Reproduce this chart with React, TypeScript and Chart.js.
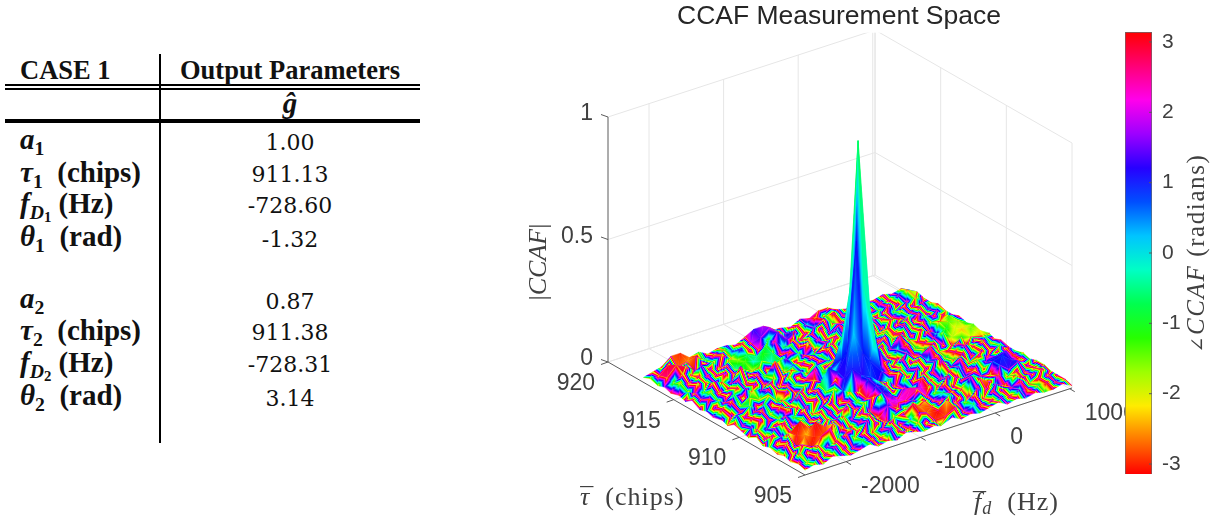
import React, { useEffect, useRef } from "react";
import { Chart, registerables } from "chart.js";

Chart.register(...registerables);

// ---------- table content ----------
const tableHeaders = ["CASE 1", "Output Parameters"];
const firstValues = ["1.00", "911.13", "-728.60", "-1.32"];
const secondValues = ["0.87", "911.38", "-728.31", "3.14"];
const firstBaselines = [150, 182, 213, 247];
const secondBaselines = [309, 340, 372, 406];

// ---------- axes content ----------
const tauTicks = [920, 915, 910, 905];
const fdTicks = [-2000, -1000, 0, 1000];
const zTicks = [1, 0.5, 0];
const phaseTicks = [-3, -2, -1, 0, 1, 2, 3];
const tauMin = 905;
const tauMax = 920;
const fdMin = -2550;
const fdMax = 1030;

// ---------- surface grid ----------
const tauGrid = [905.0, 905.5, 906.1, 906.6, 907.1, 907.7, 908.2, 908.7, 909.3, 909.8, 910.4, 910.9, 911.3, 912.0, 912.5, 913.0, 913.6, 914.1, 914.6, 915.2, 915.7, 916.2, 916.8, 917.3];
const fdGrid = [-2550, -2427, -2303, -2180, -2056, -1933, -1810, -1686, -1563, -1439, -1316, -1193, -1069, -946, -822, -729, -575, -452, -329, -205, -82, 42, 165, 288, 412, 535, 658, 782, 905, 1030];

// |CCAF| in hundredths, one row per tau
const magnitude = [
  [2,3,2,4,3,2,3,4,2,3,2,4,3,2,3,2,4,2,3,2,3,4,2,3,2,3,2,2,3,1],
  [3,2,4,3,5,3,2,4,3,2,5,3,2,4,2,3,3,5,2,4,2,3,3,2,4,2,3,3,2,2],
  [2,4,3,5,3,4,6,3,4,3,3,5,2,3,5,4,3,6,4,3,5,2,4,3,3,4,2,3,3,2],
  [3,2,5,3,6,8,3,5,3,6,4,3,4,4,7,5,3,4,6,3,2,5,3,4,2,5,3,3,4,2],
  [2,5,3,6,4,3,7,4,3,4,6,3,7,5,3,6,4,3,5,4,4,8,6,3,5,3,4,2,3,3],
  [3,3,6,4,3,7,4,5,6,3,5,4,9,6,4,4,7,3,3,6,3,5,3,4,3,6,3,5,2,3],
  [2,5,3,4,7,3,5,4,3,7,4,6,7,8,5,3,6,5,4,3,6,4,3,5,4,6,7,4,3,2],
  [4,2,5,6,3,5,3,6,4,3,6,5,5,9,7,5,4,3,6,4,3,5,6,3,6,4,5,6,3,3],
  [2,4,3,3,6,4,6,3,5,5,4,7,6,10,8,6,3,5,3,5,4,8,4,6,3,5,3,4,4,2],
  [3,3,5,4,3,6,5,4,6,4,8,6,14,10,8,5,4,6,3,5,4,6,3,4,5,3,4,3,4,2],
  [4,2,4,6,3,5,4,7,4,7,5,9,8,25,16,12,6,4,5,3,6,4,5,3,4,6,4,5,3,3],
  [2,5,3,4,6,4,5,3,6,5,6,12,9,16,60,42,17,7,4,6,3,5,7,4,3,5,3,4,4,2],
  [3,3,4,5,3,7,3,6,4,6,7,5,8,12,42,99,30,9,5,4,6,3,5,6,4,3,5,4,3,3],
  [2,4,6,3,5,3,6,4,5,4,5,8,6,7,17,30,12,6,7,3,5,6,3,4,5,6,3,5,4,2],
  [3,3,4,6,3,5,4,6,3,6,4,5,7,5,7,6,8,5,4,6,4,8,5,3,6,4,5,4,3,3],
  [2,5,3,4,6,4,5,3,5,4,6,4,5,6,5,4,6,7,9,4,7,5,6,4,5,3,6,5,4,2],
  [4,3,5,3,4,6,3,6,4,9,3,5,4,6,5,7,4,6,5,6,3,6,4,7,4,5,4,3,4,3],
  [2,4,3,6,5,3,9,4,6,3,5,6,3,5,4,5,6,4,7,3,6,4,5,5,6,4,5,4,3,2],
  [3,3,5,4,3,6,4,5,3,6,4,4,6,4,7,3,5,6,4,5,9,6,3,6,4,5,4,3,3,2],
  [2,5,3,5,4,3,6,3,5,4,6,5,3,6,4,6,4,3,6,4,7,3,5,4,3,5,3,4,2,3],
  [3,3,6,4,7,4,3,5,4,5,3,6,7,3,5,4,5,6,3,5,4,5,6,3,4,3,4,3,3,2],
  [2,4,8,6,3,5,4,6,3,6,4,3,6,8,4,6,3,5,7,4,3,4,3,5,3,4,3,3,4,2],
  [3,3,6,4,5,6,3,4,5,3,5,4,5,8,5,3,5,4,6,5,5,3,4,3,4,3,3,4,5,3],
  [2,3,4,7,7,4,5,3,4,4,3,5,7,7,4,4,3,5,4,6,6,4,3,4,3,3,4,3,4,2],
];

// angle of CCAF in tenths of a radian, one row per tau
const phase = [
  [28,-12,31,-24,8,-30,18,-6,30,-20,12,-31,24,-9,29,-16,5,-28,21,-2,31,-22,14,-30,9,26,-14,-31,17,-25],
  [25,-9,29,-27,11,-31,15,-3,27,-24,9,-28,27,-12,26,-30,-29,-31,18,1,28,-25,11,-27,6,29,-11,-29,14,-22],
  [30,-15,27,-21,5,-28,21,-9,31,-17,15,-30,21,-6,-30,-28,-31,-26,24,-5,30,-19,17,-31,12,23,-17,-30,20,-28],
  [-12,31,-24,-30,-28,-31,-6,30,-20,12,-31,24,-9,-29,-30,-27,-28,21,-2,31,-22,14,-30,9,26,-14,-31,17,-25,30],
  [-15,28,-31,-27,-30,-29,-24,27,-23,15,-28,27,15,26,-13,8,-25,18,1,28,-19,11,-27,-29,23,-11,-29,20,-22,27],
  [-9,30,-21,-30,-26,-31,-28,31,-17,9,-30,21,-6,21,22,23,24,22,-5,30,-25,17,-31,12,29,11,12,10,-28,31],
  [31,-24,8,-30,-31,-27,30,-20,12,-31,24,-9,29,13,16,22,24,21,31,-22,14,-30,9,26,-14,11,10,12,30,-5],
  [28,-27,11,-27,21,-9,27,-23,15,-28,21,-6,26,14,8,-25,18,1,28,-19,11,-27,6,29,-11,10,11,13,27,-8],
  [30,-21,5,-31,15,-3,31,-17,9,-30,27,-12,31,14,2,-31,24,-5,30,-25,17,-31,12,23,-17,-28,20,-22,31,-2],
  [-24,8,-30,18,-6,30,-20,12,-31,24,-9,9,10,12,8,11,-2,31,-22,14,-30,9,26,-14,-31,17,-25,30,-5,22],
  [-27,11,-27,21,-9,27,-23,15,-28,21,-6,26,12,2,10,9,11,28,-19,11,-27,6,29,-11,-29,14,-22,27,-8,19],
  [-21,5,-31,15,-3,31,-17,9,-30,27,-12,10,12,10,11,-3,-4,30,-25,17,-31,12,23,-17,-28,20,-28,31,-2,25],
  [8,-30,18,-6,30,-12,-13,-31,24,-9,29,8,-3,10,-3,-7,-3,10,14,-30,9,26,-14,-31,17,-25,-15,-19,-22,-16],
  [11,-27,21,-9,-11,-12,15,-28,21,-6,26,21,-7,11,-4,-3,-2,-19,11,-27,6,29,-11,-29,14,-9,-18,-21,-17,-20],
  [5,-31,15,-3,27,-17,9,-30,27,-12,31,-13,2,-31,-23,-6,4,-25,17,-31,12,23,-17,-28,20,5,-12,-19,-20,-15],
  [-30,18,-6,30,-20,12,-31,24,-9,29,-16,5,-28,21,-2,31,-22,14,-30,9,26,-14,-31,17,-25,19,-14,-15,-17,-12],
  [-27,15,-9,27,-23,15,-28,21,-6,26,-13,2,-31,24,-5,28,-19,11,-27,6,29,-11,-29,14,-22,27,-8,-22,-14,19],
  [-31,21,-3,31,-17,9,-30,27,-12,31,-19,8,-25,18,1,30,-25,17,-31,12,23,-17,-28,20,-28,31,-2,18,-28,11],
  [18,-6,30,-20,12,-31,24,-9,-15,-8,-4,-9,21,-2,31,-22,14,-30,9,26,-14,-31,17,-25,30,-5,22,-29,11,-18],
  [21,-9,27,-23,15,-28,21,-6,-12,-5,-9,-6,24,-5,28,-19,11,-27,6,29,-11,-29,14,-22,27,-8,19,-27,8,-21],
  [15,-3,31,-17,9,-30,27,-12,-13,-7,-5,-8,18,1,30,-25,17,-31,12,23,-17,-28,20,-28,31,-2,25,-31,14,-15],
  [-6,27,28,29,-31,24,-9,29,-16,5,-28,21,-2,13,14,14,-30,9,26,-14,-31,17,-25,30,-5,22,-29,11,-18,31],
  [-9,27,29,-28,-27,-29,-6,26,-13,2,-25,18,15,16,-19,11,-27,6,29,-11,-29,14,-22,27,-8,19,-27,8,-17,-19],
  [-3,31,-14,-28,-29,-27,-12,31,-19,8,-31,24,14,17,-25,17,-31,12,23,26,24,20,-28,31,-2,25,-31,14,-18,-2],
];

// ---------- oblique projection of the 3-D box onto the page ----------
const origin = { x: 805, y: 475 };
const tauAxis = { x: -197, y: -113 };
const fdAxis = { x: 267, y: -87 };
const zHeight = 245;
const noiseFloorLimit = 0.12;
const noiseBanding = 1.9;

function project(tau: number, fd: number, z: number) {
  const a = (tau - tauMin) / (tauMax - tauMin);
  const b = (fd - fdMin) / (fdMax - fdMin);
  return {
    x: origin.x + a * tauAxis.x + b * fdAxis.x,
    y: origin.y + a * tauAxis.y + b * fdAxis.y - z * zHeight,
  };
}

function phaseColor(p: number) {
  const h = ((((p + Math.PI) / (2 * Math.PI)) * 360) % 360 + 360) % 360;
  return `hsl(${h.toFixed(1)},100%,50%)`;
}

function gradientBetween(ctx: CanvasRenderingContext2D, x0: number, y0: number, x1: number, y1: number, a: number, b: number) {
  const g = ctx.createLinearGradient(x0, y0, x1, y1);
  const n = Math.max(2, Math.ceil(Math.abs(b - a) / 0.5) + 1);
  for (let i = 0; i < n; i++) {
    const t = i / (n - 1);
    g.addColorStop(t, phaseColor(a + (b - a) * t));
  }
  return g;
}

function segment(points: { x: number; y: number }[], color: string, width: number) {
  return {
    data: points,
    showLine: true,
    fill: false,
    borderColor: color,
    borderWidth: width,
    pointRadius: 0,
    tension: 0,
  };
}

type Vertex = { x: number; y: number; p: number };

// A linear gradient that follows the angle over one triangle; the noise floor gets tighter colour bands.
function triangleFill(ctx: CanvasRenderingContext2D, v: Vertex[], banding: number) {
  const [a, b, c] = v;
  const ux = b.x - a.x, uy = b.y - a.y, up = b.p - a.p;
  const wx = c.x - a.x, wy = c.y - a.y, wp = c.p - a.p;
  const det = ux * wy - uy * wx;
  const mean = (a.p + b.p + c.p) / 3;
  if (Math.abs(det) < 1e-3) return phaseColor(mean);
  const gx = (up * wy - wp * uy) / det;
  const gy = (ux * wp - wx * up) / det;
  const g2 = gx * gx + gy * gy;
  if (g2 < 1e-9) return phaseColor(mean);
  const sorted = [...v].sort((m, n) => m.p - n.p);
  const lo = sorted[0];
  const hi = sorted[2];
  const span = hi.p - lo.p;
  return gradientBetween(
    ctx,
    lo.x,
    lo.y,
    lo.x + (gx * span) / g2,
    lo.y + (gy * span) / g2,
    mean + (lo.p - mean) * banding,
    mean + (hi.p - mean) * banding
  );
}

function surfaceDatasets() {
  const cells: any[] = [];
  const triangle = (i: number[], j: number[]) => {
    const heights = i.map((r, k) => magnitude[r][j[k]] / 100);
    const world = i.map((r, k) => ({
      ...project(tauGrid[r], fdGrid[j[k]], heights[k]),
      p: phase[r][j[k]] / 10,
    }));
    const banding = Math.max(...heights) < noiseFloorLimit ? noiseBanding : 1;
    let cache: any = null;
    const paint = (ctx: any) => {
      if (cache) return cache;
      const chart = ctx.chart;
      const sx = chart.scales.x;
      const sy = chart.scales.y;
      if (!sx || !sy) return "#888";
      const px = world.map((v) => ({ x: sx.getPixelForValue(v.x), y: sy.getPixelForValue(v.y), p: v.p }));
      if (!px.every((v) => Number.isFinite(v.x) && Number.isFinite(v.y))) return "#888";
      cache = triangleFill(chart.ctx, px, banding);
      return cache;
    };
    cells.push({
      data: [world[0], world[1], world[2], world[0]].map((v) => ({ x: v.x, y: v.y })),
      showLine: true,
      fill: "shape",
      borderColor: paint,
      backgroundColor: paint,
      borderWidth: 0.5,
      pointRadius: 0,
      tension: 0,
    });
  };
  for (let s = 0; s <= tauGrid.length + fdGrid.length - 4; s++) {
    for (let r = 0; r < tauGrid.length - 1; r++) {
      const c = s - r;
      if (c < 0 || c >= fdGrid.length - 1) continue;
      triangle([r, r, r + 1], [c, c + 1, c + 1]);
      triangle([r, r + 1, r + 1], [c, c + 1, c]);
    }
  }
  return cells;
}

function boxDatasets() {
  const wall = "#e6e6e6";
  const axis = "#5a5a5a";
  const out: any[] = [];
  for (const z of zTicks) {
    out.push(segment([project(tauMax, fdMin, z), project(tauMax, fdMax, z), project(tauMin, fdMax, z)], wall, 1));
  }
  for (const f of fdTicks) {
    out.push(segment([project(tauMax, f, 0), project(tauMax, f, 1)], wall, 1));
    out.push(segment([project(tauMax, f, 0), project(tauMin, f, 0)], wall, 1));
  }
  for (const t of tauTicks) {
    out.push(segment([project(t, fdMax, 0), project(t, fdMax, 1)], wall, 1));
    out.push(segment([project(t, fdMax, 0), project(t, fdMin, 0)], wall, 1));
  }
  out.push(segment([project(tauMax, fdMax, 0), project(tauMax, fdMax, 1)], wall, 1));
  out.unshift(segment([project(tauMax, fdMin, 0), project(tauMax, fdMin, 1)], axis, 1));
  out.unshift(segment([project(tauMax, fdMin, 0), project(tauMin, fdMin, 0)], axis, 1));
  out.unshift(segment([project(tauMin, fdMin, 0), project(tauMin, fdMax, 0)], axis, 1));
  for (const z of zTicks) {
    const p = project(tauMax, fdMin, z);
    out.unshift(segment([p, { x: p.x - 7, y: p.y - 2.5 }], axis, 1));
  }
  for (const t of tauTicks) {
    const p = project(t, fdMin, 0);
    out.unshift(segment([p, { x: p.x - 7, y: p.y + 2.5 }], axis, 1));
  }
  for (const f of fdTicks) {
    const p = project(tauMin, f, 0);
    out.unshift(segment([p, { x: p.x + 5, y: p.y + 3 }], axis, 1));
  }
  return out;
}

type Run = { t: string; font: string; dy?: number; over?: boolean };
type Label = { x: number; y: number; rot?: number; align?: "left" | "right" | "center"; spacing?: string; runs: Run[] };

const sans = '"Liberation Sans", Arial, sans-serif';
const serif = '"Liberation Serif", "Times New Roman", serif';
const inkColor = "#404040";

function drawRuns(ctx: CanvasRenderingContext2D, label: Label) {
  ctx.save();
  ctx.translate(label.x, label.y);
  if (label.rot) ctx.rotate(label.rot);
  ctx.textBaseline = "alphabetic";
  ctx.textAlign = "left";
  ctx.fillStyle = inkColor;
  (ctx as any).letterSpacing = label.spacing ?? "0px";
  let w = 0;
  for (const run of label.runs) {
    if (run.over) continue;
    ctx.font = run.font;
    w += ctx.measureText(run.t).width;
  }
  let x = label.align === "center" ? -w / 2 : label.align === "right" ? -w : 0;
  let previous = 0;
  for (const run of label.runs) {
    ctx.font = run.font;
    const m = ctx.measureText(run.t).width;
    if (run.over) {
      ctx.fillText(run.t, x - previous / 2 - m / 2 + 2, run.dy ?? 0);
      continue;
    }
    ctx.fillText(run.t, x, run.dy ?? 0);
    x += m;
    previous = m;
  }
  ctx.restore();
}

const tickFont = `23px ${sans}`;
const italicFont = `italic 26px ${serif}`;
const romanFont = `26px ${serif}`;

function plotLabels(): Label[] {
  const out: Label[] = [];
  for (const t of tauTicks) {
    const p = project(t, fdMin, 0);
    out.push({ x: p.x - 13, y: p.y + 28, align: "right", runs: [{ t: String(t), font: tickFont }] });
  }
  for (const f of fdTicks) {
    const p = project(tauMin, f, 0);
    out.push({ x: p.x + 15, y: p.y + 31, align: "left", runs: [{ t: String(f), font: tickFont }] });
  }
  for (const z of zTicks) {
    const p = project(tauMax, fdMin, z);
    out.push({ x: p.x - 15, y: p.y + 3, align: "right", runs: [{ t: String(z), font: tickFont }] });
  }
  out.push({
    x: 546,
    y: 262,
    rot: -Math.PI / 2,
    align: "center",
    runs: [{ t: "|", font: romanFont }, { t: "CCAF", font: italicFont }, { t: "|", font: romanFont }],
  });
  out.push({
    x: 580,
    y: 505,
    align: "left",
    spacing: "1px",
    runs: [
      { t: "\u03C4", font: italicFont },
      { t: "\u00AF", font: romanFont, dy: 0, over: true },
      { t: "  (chips)", font: romanFont },
    ],
  });
  out.push({
    x: 974,
    y: 510,
    align: "left",
    spacing: "1px",
    runs: [
      { t: "f", font: italicFont },
      { t: "\u00AF", font: romanFont, dy: 0, over: true },
      { t: "d", font: `italic 18px ${serif}`, dy: 4 },
      { t: "  (Hz)", font: romanFont },
    ],
  });
  return out;
}

function Surface() {
  const ref = useRef<HTMLCanvasElement | null>(null);
  useEffect(() => {
    if (!ref.current) return;
    const labels = plotLabels();
    const textPlugin = {
      id: "plotText",
      afterDraw(chart: any) {
        const { ctx, scales } = chart;
        for (const l of labels) {
          drawRuns(ctx, { ...l, x: scales.x.getPixelForValue(l.x), y: scales.y.getPixelForValue(l.y) });
        }
      },
    };
    const chart = new Chart(ref.current, {
      type: "scatter",
      data: { datasets: [...surfaceDatasets(), ...boxDatasets()] as any },
      plugins: [textPlugin],
      options: {
        animation: false,
        responsive: false,
        events: [],
        layout: { padding: 0 },
        plugins: {
          legend: { display: false },
          tooltip: { enabled: false },
          title: {
            display: true,
            text: "CCAF Measurement Space",
            color: "#262626",
            padding: { top: 1, bottom: 0 },
            font: { family: sans, size: 26.5, weight: "normal", lineHeight: 1.2 },
          },
        },
        scales: {
          x: { type: "linear", min: 461, max: 1217, display: false },
          y: { type: "linear", min: 32.8, max: 523, reverse: true, display: false },
        },
      } as any,
    });
    return () => chart.destroy();
  }, []);
  return <canvas ref={ref} width={756} height={523} style={{ position: "absolute", left: 461, top: 0 }} />;
}

function ColorBar() {
  const ref = useRef<HTMLCanvasElement | null>(null);
  useEffect(() => {
    if (!ref.current) return;
    const barPlugin = {
      id: "barExtras",
      afterDraw(chart: any) {
        const { ctx, chartArea, scales } = chart;
        ctx.save();
        ctx.strokeStyle = "#5a5a5a";
        ctx.lineWidth = 1;
        for (const t of phaseTicks) {
          const y = scales.y.getPixelForValue(t);
          ctx.beginPath();
          ctx.moveTo(chartArea.right - 3, y);
          ctx.lineTo(chartArea.right, y);
          ctx.stroke();
        }
        ctx.restore();
        drawRuns(ctx, {
          x: 104,
          y: 253,
          rot: -Math.PI / 2,
          align: "center",
          spacing: "1.6px",
          runs: [
            { t: "\u2220", font: `19px "DejaVu Serif", ${serif}` },
            { t: "CCAF", font: `italic 25px ${serif}` },
            { t: " (radians)", font: `25px ${serif}` },
          ],
        });
      },
    };
    const chart = new Chart(ref.current, {
      type: "bar",
      data: {
        labels: ["phase"],
        datasets: [
          {
            data: [[-Math.PI, Math.PI]],
            barPercentage: 1,
            categoryPercentage: 1,
            borderWidth: 1,
            borderColor: "#6a6a6a",
            backgroundColor: (ctx: any) => {
              const s = ctx.chart.scales.y;
              if (!s) return "#888";
              const lo = s.getPixelForValue(-Math.PI);
              const hi = s.getPixelForValue(Math.PI);
              if (!Number.isFinite(lo) || !Number.isFinite(hi)) return "#888";
              return gradientBetween(ctx.chart.ctx, 0, lo, 0, hi, -Math.PI, Math.PI);
            },
          },
        ] as any,
      },
      plugins: [barPlugin],
      options: {
        animation: false,
        responsive: false,
        events: [],
        layout: { padding: { left: 25, top: 32, bottom: 49, right: 0 } },
        plugins: { legend: { display: false }, tooltip: { enabled: false } },
        scales: {
          x: { display: false },
          y: {
            type: "linear",
            position: "right",
            min: -Math.PI,
            max: Math.PI,
            afterFit: (s: any) => {
              s.width = 65;
            },
            grid: { display: false },
            border: { display: false },
            ticks: {
              includeBounds: false,
              stepSize: 1,
              padding: 2,
              color: inkColor,
              font: { family: sans, size: 21 },
            },
          },
        },
      } as any,
    });
    return () => chart.destroy();
  }, []);
  return <canvas ref={ref} width={117} height={523} style={{ position: "absolute", left: 1100, top: 0 }} />;
}

// ---------- table ----------
const bodyFont = '"DejaVu Serif", serif';
const headFont = '"Liberation Serif", serif';

function T(props: { x: number; base: number; size: number; family: string; center?: boolean; bold?: boolean; children: React.ReactNode }) {
  const { x, base, size, family, center, bold, children } = props;
  return (
    <div
      style={{
        position: "absolute",
        left: x,
        top: base - 20 - 0.34 * size,
        lineHeight: "40px",
        fontSize: size,
        fontFamily: family,
        fontWeight: bold ? 700 : 400,
        whiteSpace: "pre",
        color: "#111",
        transform: center ? "translateX(-50%)" : undefined,
      }}
    >
      {children}
    </div>
  );
}

const subStyle: React.CSSProperties = { fontSize: "0.68em", position: "relative", top: "0.28em", fontStyle: "normal" };

function Sym(props: { s: string; sub: string; rest: string; small?: boolean }) {
  return (
    <>
      <i>{props.s}</i>
      {props.small ? (
        <span style={{ ...subStyle, fontStyle: "italic" }}>
          D<span style={{ fontSize: "0.75em", position: "relative", top: "0.2em", fontStyle: "normal" }}>{props.sub}</span>
        </span>
      ) : (
        <span style={subStyle}>{props.sub}</span>
      )}
      {props.rest}
    </>
  );
}

function Rule(props: { x: number; y: number; w: number; h: number }) {
  return <div style={{ position: "absolute", left: props.x, top: props.y, width: props.w, height: props.h, background: "#000" }} />;
}

function ParamTable() {
  const rows = (sub: string, bases: number[], vals: string[]) => (
    <>
      <T x={20} base={bases[0] - 1} size={29} family={headFont} bold><Sym s="a" sub={sub} rest="" /></T>
      <T x={20} base={bases[1]} size={29} family={headFont} bold><Sym s="τ" sub={sub} rest="  (chips)" /></T>
      <T x={20} base={bases[2]} size={29} family={headFont} bold><Sym s="f" sub={sub} rest=" (Hz)" small /></T>
      <T x={20} base={bases[3] - 1} size={29} family={headFont} bold><Sym s="θ" sub={sub} rest="  (rad)" /></T>
      {vals.map((v, i) => (
        <T key={v} x={290} base={bases[i]} size={22} family={bodyFont} center>{v}</T>
      ))}
    </>
  );
  return (
    <>
      <Rule x={159} y={54} w={2} h={389} />
      <Rule x={5} y={84} w={415} h={2} />
      <Rule x={5} y={88} w={415} h={2} />
      <Rule x={5} y={119} w={415} h={4} />
      <T x={20} base={79} size={26.5} family={headFont} bold>{tableHeaders[0]}</T>
      <T x={290} base={79} size={26.5} family={headFont} bold center>{tableHeaders[1]}</T>
      <T x={290} base={113} size={29} family={headFont} bold center><i>{"g\u0302"}</i></T>
      {rows("1", firstBaselines, firstValues)}
      {rows("2", secondBaselines, secondValues)}
    </>
  );
}

export default function App() {
  return (
    <div style={{ position: "absolute", left: 0, top: 0, width: 1217, height: 523, overflow: "hidden", background: "#fff", filter: "blur(0.45px)" }}>
      <ParamTable />
      <Surface />
      <ColorBar />
    </div>
  );
}
